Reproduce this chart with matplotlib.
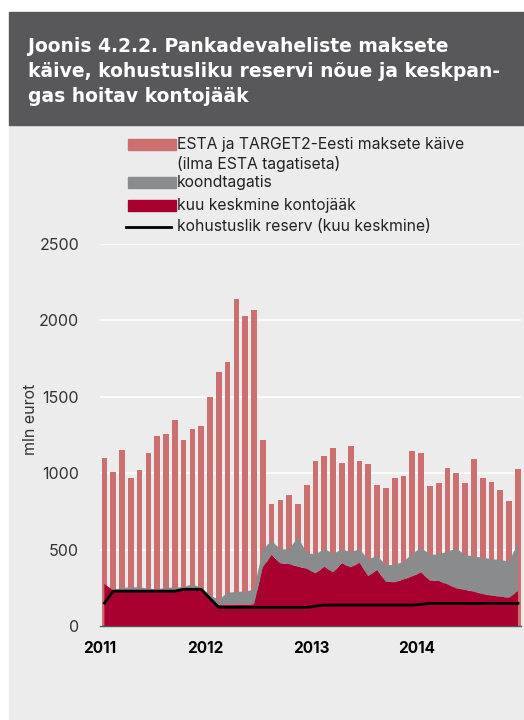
import numpy as np
import matplotlib
matplotlib.use("Agg")
import matplotlib.pyplot as plt
import matplotlib.patches as patches
from matplotlib.lines import Line2D

plt.rcParams['font.family'] = ['Inter', 'DejaVu Sans']

# Monthly data 2011-2014 (mln eurot)
years = ['2011', '2012', '2013', '2014']
kaive = [1100, 1010, 1155, 970, 1020, 1130, 1245, 1255, 1345, 1220, 1290, 1310,
         1500, 1665, 1730, 2140, 2030, 2070, 1220, 800, 825, 855, 800, 920,
         1080, 1110, 1165, 1070, 1175, 1080, 1060, 920, 900, 970, 980, 1145,
         1135, 915, 935, 1035, 1000, 935, 1090, 970, 945, 890, 815, 1025]
kontojaak = [275, 233, 232, 232, 232, 230, 230, 232, 233, 240, 243, 238,
             185, 137, 137, 137, 138, 142, 385, 465, 410, 406, 388, 375,
             345, 388, 351, 410, 384, 414, 327, 366, 290, 286, 305, 325,
             351, 297, 295, 273, 247, 236, 225, 209, 199, 192, 185, 229]
koondtagatis = [0, 2, 18, 21, 21, 15, 10, 18, 19, 15, 30, 12,
                18, 33, 81, 85, 89, 93, 112, 93, 92, 96, 192, 105,
                120, 120, 120, 92, 100, 88, 109, 92, 109, 113, 116, 145,
                164, 168, 174, 213, 261, 229, 229, 238, 239, 240, 236, 312]
reserv = [150, 228, 228, 228, 228, 228, 228, 228, 228, 240, 240, 240,
          180, 122, 122, 122, 122, 122, 122, 122, 122, 122, 122, 122,
          130, 137, 137, 137, 137, 137, 137, 137, 137, 137, 137, 137,
          142, 148, 148, 148, 148, 148, 148, 148, 148, 148, 148, 148]

title_lines = ["Joonis 4.2.2. Pankadevaheliste maksete",
               "käive, kohustusliku reservi nõue ja keskpan-",
               "gas hoitav kontojääk"]

C_BAR = '#cc6f6f'
C_GRAY = '#8a8b8d'
C_RED = '#a8002f'
C_BG = '#ebeceb'
C_HEAD = '#58585a'

W, H = 524, 720
fig = plt.figure(figsize=(W / 100, H / 100), dpi=100)
fig.patch.set_facecolor('white')

# background panel and header box (pixel coords -> figure fraction)
fig.add_artist(patches.Rectangle((9 / W, 0), 1 - 9 / W, (H - 125) / H,
                                 transform=fig.transFigure, color=C_BG, zorder=0))
fig.add_artist(patches.Rectangle((9 / W, (H - 125) / H), 1 - 9 / W, 113 / H,
                                 transform=fig.transFigure, color=C_HEAD, zorder=0))
for i, line in enumerate(title_lines):
    fig.text(28 / W, 1 - (52 + 25 * i) / H, line, color='white', fontsize=13.5,
             fontweight='bold', va='baseline', ha='left', family='DejaVu Sans')

ax = fig.add_axes([100 / W, (H - 626) / H, 421 / W, 382 / H])
ax.set_facecolor(C_BG)

x = np.arange(len(kaive))
ax.bar(x, kaive, width=0.65, color=C_BAR, zorder=2)
ax.stackplot(x, kontojaak, koondtagatis, colors=[C_RED, C_GRAY],
             linewidth=0, zorder=3)
ax.plot(x, reserv, color='black', linewidth=2, zorder=4)

ax.set_xlim(-0.35, 47.35)
ax.set_ylim(0, 2500)
ax.set_yticks(np.arange(0, 2501, 500))
ax.yaxis.grid(True, color='white', linewidth=1.2, zorder=1)
ax.set_axisbelow(True)
ax.set_xticks(np.arange(len(years)) * 12 - 0.5)
ax.set_xticklabels(years, fontweight='bold', fontsize=11)
ax.tick_params(axis='x', length=0, pad=11)
ax.tick_params(axis='y', length=0, pad=15, labelsize=11.5, labelcolor='#333333')
for s in ['top', 'right', 'left']:
    ax.spines[s].set_visible(False)
ax.spines['bottom'].set_color('#555555')
ax.spines['bottom'].set_linewidth(1)
ax.set_ylabel('mln eurot', fontsize=11.5, color='#333333')
ax.yaxis.set_label_coords(-0.147, 0.54)

# legend drawn in figure pixels
def px(xp, yp):
    return xp / W, 1 - yp / H

leg_items = [
    ('patch', C_BAR, 139, ["ESTA ja TARGET2-Eesti maksete käive", "(ilma ESTA tagatiseta)"]),
    ('patch', C_GRAY, 177, ["koondtagatis"]),
    ('patch', C_RED, 200, ["kuu keskmine kontojääk"]),
    ('line', 'black', 221, ["kohustuslik reserv (kuu keskmine)"]),
]
for kind, col, ytop, texts in leg_items:
    if kind == 'patch':
        fig.add_artist(patches.Rectangle(px(128, ytop + 11), 48 / W, 11 / H,
                                         transform=fig.transFigure, color=col))
    else:
        fig.add_artist(Line2D([126 / W, 171 / W], [1 - (ytop + 6) / H] * 2,
                              transform=fig.transFigure, color=col, linewidth=2))
    for j, t in enumerate(texts):
        fig.text(*px(177, ytop + 5.5 + 20 * j), t, fontsize=11.3, color='#222222',
                 va='center', ha='left')

fig.savefig('out.png', dpi=100)
